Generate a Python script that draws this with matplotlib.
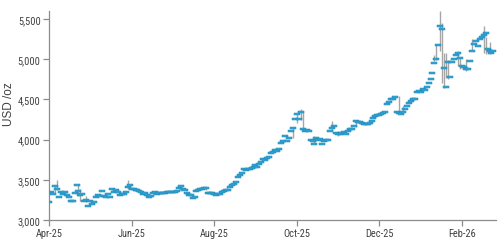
import matplotlib
matplotlib.use("Agg")
import matplotlib.pyplot as plt
from matplotlib import font_manager
from matplotlib.path import Path

# ---------------- data (daily close, USD/oz) -------------
close_apr = [3229, 3343, 3327, 3424, 3381, 3288, 3349, 3319, 3343, 3316, 3288]
close_may = [3239, 3241, 3334, 3430, 3366, 3306, 3325, 3236, 3248, 3177, 3240,
             3203, 3230, 3290, 3315, 3294, 3357, 3300, 3288, 3318, 3289]
close_jun = [3381, 3353, 3373, 3352, 3310, 3326, 3322, 3354, 3406, 3433, 3385,
             3389, 3369, 3369, 3364, 3351, 3323, 3332, 3310, 3280, 3303]
close_jul = [3338, 3344, 3326, 3336, 3335, 3335, 3335, 3344, 3344, 3351, 3347,
             3344, 3364, 3397, 3418, 3387, 3368, 3340, 3314, 3310, 3274, 3289]
close_aug = [3356, 3372, 3380, 3385, 3397, 3398, 3341, 3331, 3331, 3320, 3314,
             3318, 3322, 3348, 3356, 3372, 3372, 3413, 3430, 3447, 3476]
close_sep = [3533, 3560, 3587, 3636, 3626, 3640, 3634, 3643, 3660, 3680, 3659,
             3695, 3720, 3757, 3746, 3769, 3778, 3833, 3850]
close_oct = [3866, 3860, 3886, 3964, 3985, 4040, 3984, 4018, 4108, 4150, 4253,
             4324, 4253, 4349, 4130, 4108, 4125, 4108, 3990, 3984, 3943, 4014, 4000]
close_nov = [4005, 3940, 3984, 3990, 4000, 4108, 4150, 4172, 4085, 4067, 4070,
             4077, 4090, 4075, 4108, 4130, 4135, 4165, 4232]
close_dec = [4215, 4216, 4205, 4200, 4195, 4190, 4208, 4228, 4275, 4294, 4300,
             4305, 4320, 4336, 4338, 4445, 4470, 4510, 4500, 4525, 4340, 4336]
close_jan = [4315, 4345, 4378, 4420, 4461, 4475, 4502, 4510, 4590, 4605, 4595,
             4625, 4615, 4660, 4700, 4758, 4833, 4950, 4998, 5172, 5411, 5370]
close_feb = [4886, 4659, 4960, 4780, 4965, 5000, 5048, 5081, 5019, 4915, 4900,
             4880, 4874, 4977, 5102, 5190, 5225, 5163, 5250, 5280, 5300, 5329,
             5122, 5101, 5081, 5102]

# visible intraday high-low ranges (index: (low, high))
ranges = {
    3: (3330, 3440), 4: (3370, 3500), 15: (3300, 3440), 16: (3240, 3380),
    19: (3230, 3300), 40: (3390, 3496), 41: (3385, 3450), 67: (3360, 3440),
    80: (3370, 3405), 124: (4014, 4160), 126: (4210, 4330), 128: (4250, 4381),
    129: (4110, 4360), 135: (3940, 4050), 144: (4110, 4232), 147: (4040, 4110),
    156: (4160, 4240), 166: (4270, 4310), 178: (4336, 4545), 180: (4340, 4415),
    196: (4980, 5050), 197: (4990, 5180), 199: (5100, 5594), 200: (4700, 5450),
    201: (4640, 5080), 202: (4770, 5080), 203: (4760, 4990), 208: (4915, 5100),
    209: (4880, 5030), 212: (4850, 5000), 215: (5100, 5250), 221: (5081, 5410),
    222: (5060, 5280), 224: (5070, 5210),
}

tick_labels = ["Apr-25", "Jun-25", "Aug-25", "Oct-25", "Dec-25", "Feb-26"]
tick_step = 42
y_ticks = [3000, 3500, 4000, 4500, 5000, 5500]

closes = (close_apr + close_may + close_jun + close_jul + close_aug + close_sep
          + close_oct + close_nov + close_dec + close_jan + close_feb)
idx = list(range(len(closes)))

# ---------------- fonts ----------------
avail = {f.name for f in font_manager.fontManager.ttflist}
narrow = None
for cand in ["Liberation Sans Narrow", "Arial Narrow", "Roboto Condensed", "Open Sans Condensed"]:
    if cand in avail:
        narrow = cand
        break
tick_font = [narrow, "DejaVu Sans"] if narrow else ["Liberation Sans", "DejaVu Sans"]

# ---------------- plot ----------------
fig = plt.figure(figsize=(5.03, 2.51), dpi=100)
ax = fig.add_axes([49 / 503, 1 - 221 / 251, (496 - 49) / 503, (221 - 12) / 251])

for i, (lo, hi) in ranges.items():
    if i < len(closes):
        ax.vlines(i, lo, hi, color="#a6a6a6", lw=1.0, zorder=2)

rect = Path([(-1, -0.45), (1, -0.45), (1, 0.45), (-1, 0.45), (-1, -0.45)],
            [Path.MOVETO, Path.LINETO, Path.LINETO, Path.LINETO, Path.CLOSEPOLY])
ax.plot(idx, closes, linestyle="none", marker=rect, markersize=3.7,
        markerfacecolor="#36a6d4", markeredgecolor="#1a86b8", markeredgewidth=0.35,
        zorder=3)

ax.set_xlim(0, len(closes) - 1 + 1.3)
ax.set_ylim(3000, 5600)
ax.set_xticks([k * tick_step for k in range(len(tick_labels))])
ax.set_xticklabels(tick_labels)
ax.set_yticks(y_ticks)
ax.set_yticklabels([f"{v:,}" for v in y_ticks])

for s in ["top", "right"]:
    ax.spines[s].set_visible(False)
for s in ["left", "bottom"]:
    ax.spines[s].set_color("#8c8c8c")
    ax.spines[s].set_linewidth(0.9)
ax.tick_params(axis="both", direction="out", length=4, width=0.9, color="#8c8c8c",
               labelcolor="#404040", labelsize=7.5, pad=2)
for lab in ax.get_xticklabels() + ax.get_yticklabels():
    lab.set_family(tick_font)

fig.text(9 / 503, 1 - 104 / 251, "USD /oz", rotation=90, ha="center", va="center",
         fontsize=8.5, color="#404040", family=["Liberation Sans", "DejaVu Sans"])

fig.savefig("out.png", dpi=100)
